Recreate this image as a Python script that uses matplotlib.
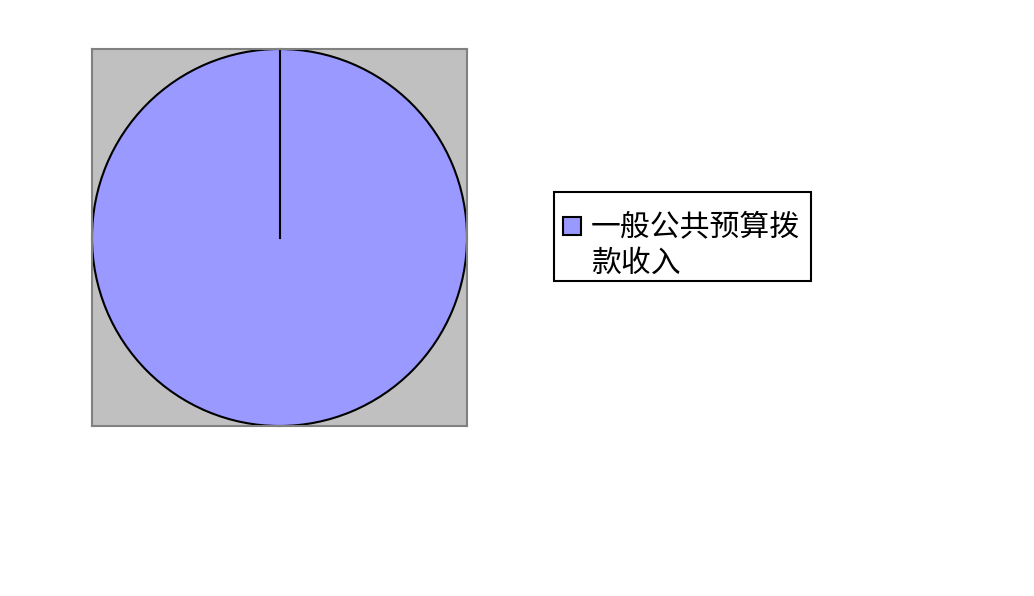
import matplotlib
matplotlib.use("Agg")
import matplotlib.pyplot as plt
from matplotlib.patches import Rectangle
import numpy as np

plt.rcParams['font.family'] = ['Noto Sans CJK SC', 'DejaVu Sans']

categories = ["一般公共预算拨款收入"]
values = [100.0]
colors = ["#9999FF"]

W, H = 1034, 596
fig = plt.figure(figsize=(W / 100, H / 100), dpi=100)

def fx(px):
    return px / W

def fy(py):
    return 1 - py / H

ax = fig.add_axes([fx(92), fy(426), fx(467) - fx(92), fy(49) - fy(426)])
ax.set_facecolor("#C0C0C0")
wedges, _ = ax.pie(values, colors=colors, startangle=90, counterclock=False,
                   radius=1.0, wedgeprops=dict(edgecolor="black", linewidth=1.5))
# boundary lines between slices (from data)
cum = np.concatenate([[0], np.cumsum(values)]) / np.sum(values)
for c in cum[:-1]:
    ang = np.deg2rad(90 - 360 * c)
    ax.plot([0, np.cos(ang)], [0, np.sin(ang)], color="black", linewidth=1.5)
ax.set_aspect("auto")
ax.set_xlim(-1.0, 1.0)
ax.set_ylim(-1.0, 1.0)
ax.set_xticks([])
ax.set_yticks([])
ax.set_frame_on(True)
for s in ax.spines.values():
    s.set_visible(True)
    s.set_color("#808080")
    s.set_linewidth(1.5)

# legend box
fig.patches.append(Rectangle((fx(554), fy(281)), fx(811) - fx(554), fy(192) - fy(281),
                             transform=fig.transFigure, facecolor="white",
                             edgecolor="black", linewidth=1.5))
fig.patches.append(Rectangle((fx(563), fy(235)), fx(581) - fx(563), fy(217) - fy(235),
                             transform=fig.transFigure, facecolor=colors[0],
                             edgecolor="black", linewidth=1.5))
label = categories[0]
lines = [label[:7], label[7:]]
fig.text(fx(591), fy(227), lines[0], fontsize=21.5, va="center", ha="left", color="black")
fig.text(fx(591), fy(263), lines[1], fontsize=21.5, va="center", ha="left", color="black")

fig.savefig("out.png", dpi=100)
